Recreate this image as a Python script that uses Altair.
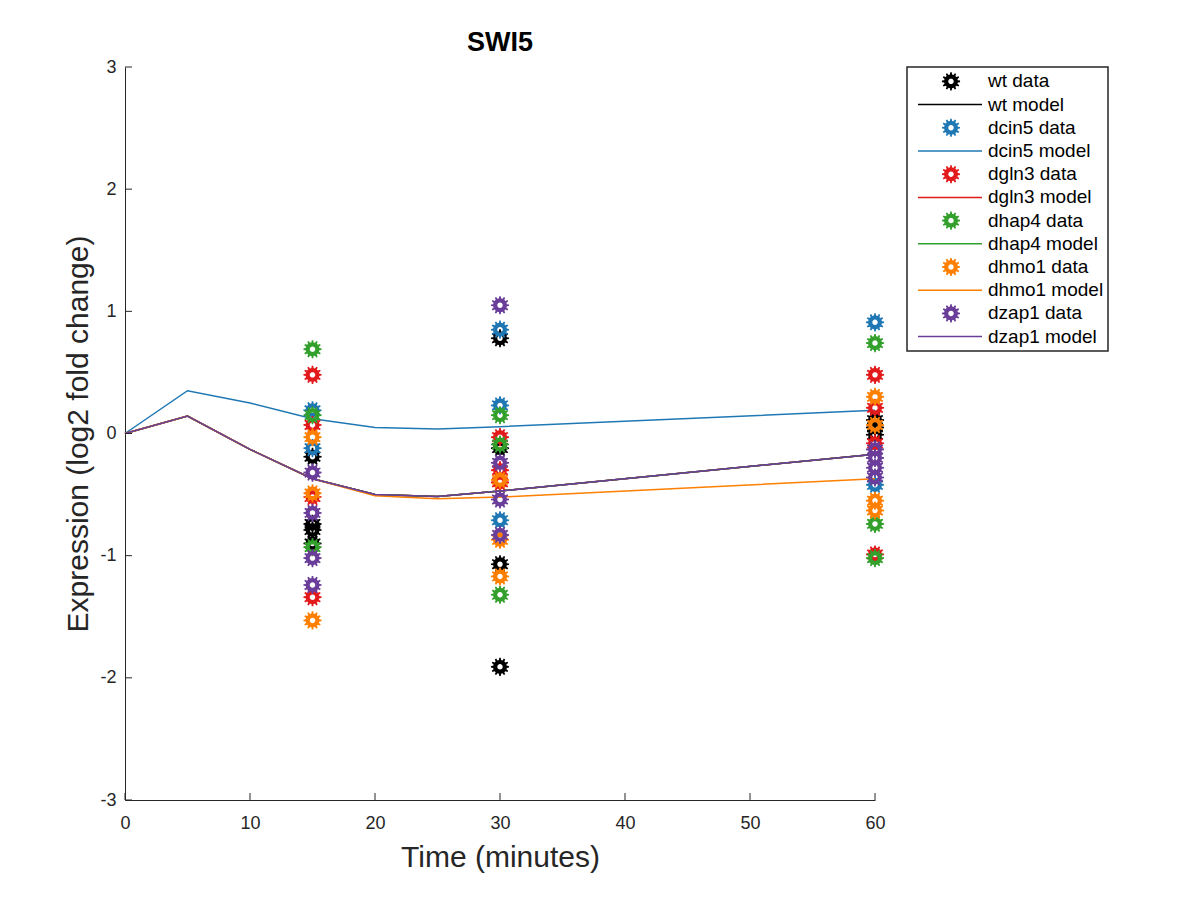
import numpy as np
import pandas as pd
import altair as alt

# ---- data ----
strains = ["wt", "dcin5", "dgln3", "dhap4", "dhmo1", "dzap1"]
colors = ["#000000", "#1f78b4", "#e31a1c", "#33a02c", "#ff7f00", "#6a3d9a"]

# replicate measurements (log2 fold change) per time point (minutes)
wt_data = {15: [-0.19, -0.74, -0.79, -0.90], 30: [0.78, -0.12, -1.07, -1.91], 60: [0.11, 0.05, -0.01]}
dcin5_data = {15: [0.19, -0.12], 30: [0.85, 0.23, -0.71], 60: [0.91, -0.42]}
dgln3_data = {15: [0.48, 0.07, -0.52, -1.34], 30: [-0.03, -0.30, -0.40], 60: [0.48, 0.21, -0.08, -0.99]}
dhap4_data = {15: [0.69, 0.15, -0.93], 30: [0.15, -0.09, -1.32], 60: [0.74, -0.74, -1.02]}
dhmo1_data = {15: [-0.03, -0.49, -1.53], 30: [-0.38, -0.87, -1.17], 60: [0.30, 0.07, -0.55, -0.63]}
dzap1_data = {15: [-0.32, -0.65, -1.02, -1.24], 30: [1.05, -0.24, -0.54, -0.83], 60: [-0.13, -0.20, -0.28, -0.36]}

model_time = [0, 5, 10, 15, 20, 25, 30, 60]
wt_model = [0, 0.143, -0.13, -0.37, -0.50, -0.515, -0.47, -0.17]
dcin5_model = [0, 0.35, 0.25, 0.12, 0.05, 0.037, 0.056, 0.19]
dgln3_model = [0, 0.143, -0.13, -0.37, -0.50, -0.515, -0.47, -0.17]
dhap4_model = [0, 0.143, -0.13, -0.37, -0.50, -0.515, -0.47, -0.17]
dhmo1_model = [0, 0.143, -0.13, -0.37, -0.51, -0.535, -0.52, -0.37]
dzap1_model = [0, 0.143, -0.13, -0.37, -0.50, -0.515, -0.47, -0.17]

x_ticks = [0, 10, 20, 30, 40, 50, 60]
y_ticks = [-3, -2, -1, 0, 1, 2, 3]

all_data = [wt_data, dcin5_data, dgln3_data, dhap4_data, dhmo1_data, dzap1_data]
all_model = [wt_model, dcin5_model, dgln3_model, dhap4_model, dhmo1_model, dzap1_model]

FONT = "Liberation Sans"
AXIS_COLOR = "#262626"


def gear_path(teeth=12, r_out=1.0, r_root=0.76, r_hole=0.3):
    # matlab-ish "gear" marker: toothed ring with a hole
    step = 2 * np.pi / teeth
    pts = []
    for k in range(teeth):
        a = k * step
        for ang, r in [(a - 0.3 * step, r_root), (a - 0.16 * step, r_out),
                       (a + 0.16 * step, r_out), (a + 0.3 * step, r_root)]:
            pts.append((r * np.cos(ang), r * np.sin(ang)))
    outer = "M" + "L".join(f"{x:.3f},{y:.3f}" for x, y in pts) + "Z"
    hole_ang = np.linspace(2 * np.pi, 0, 17)[:-1]
    hole = "M" + "L".join(f"{r_hole * np.cos(t):.3f},{r_hole * np.sin(t):.3f}" for t in hole_ang) + "Z"
    return outer + hole


GEAR = gear_path()
GEAR_SIZE = 330

# plain hyphen minus like the original, not the unicode one
PLAIN = "'' + datum.value"

x_scale = alt.Scale(domain=[0, 60], nice=False, zero=False)
y_scale = alt.Scale(domain=[-3, 3], nice=False, zero=False)
x_axis = alt.Axis(values=x_ticks, title="Time (minutes)", tickSize=0, labelPadding=14,
                  titlePadding=10, grid=False, labelExpr=PLAIN, labelFlush=False)
y_axis = alt.Axis(values=y_ticks, title="Expression (log2 fold change)", tickSize=0,
                  labelPadding=9, titlePadding=6, grid=False, labelExpr=PLAIN, labelFlush=False)


def xy(xf, yf):
    return dict(x=alt.X(xf, scale=x_scale, axis=x_axis), y=alt.Y(yf, scale=y_scale, axis=y_axis))


layers = []
for name, col, data, model in zip(strains, colors, all_data, all_model):
    pts = pd.DataFrame([(t, v) for t, vals in data.items() for v in vals], columns=["time", "value"])
    line = pd.DataFrame({"time": model_time, "value": model})
    layers.append(
        alt.Chart(pts).mark_point(shape=GEAR, filled=True, size=GEAR_SIZE, opacity=1, color=col)
        .encode(**xy("time:Q", "value:Q"))
    )
    layers.append(
        alt.Chart(line).mark_line(color=col, strokeWidth=1.5).encode(**xy("time:Q", "value:Q"))
    )

# inward tick marks (matlab style)
xt = pd.DataFrame({"time": x_ticks})
yt = pd.DataFrame({"value": y_ticks})
layers.append(
    alt.Chart(xt).mark_rule(color=AXIS_COLOR, strokeWidth=1)
    .encode(x=alt.X("time:Q", scale=x_scale, axis=x_axis), y=alt.value(733), y2=alt.value(726))
)
layers.append(
    alt.Chart(yt).mark_rule(color=AXIS_COLOR, strokeWidth=1)
    .encode(y=alt.Y("value:Q", scale=y_scale, axis=y_axis), x=alt.value(0), x2=alt.value(7))
)

main = alt.layer(*layers).properties(
    width=750, height=733,
    title=alt.TitleParams("SWI5", fontSize=27, fontWeight="bold", font=FONT, color="#000000",
                          offset=1, anchor="middle"),
    view=alt.ViewBackground(stroke="transparent"),
)

# ---- legend drawn as its own little panel ----
labels, leg_colors, kinds = [], [], []
for name, col in zip(strains, colors):
    labels += [f"{name} data", f"{name} model"]
    leg_colors += [col, col]
    kinds += ["data", "model"]
leg = pd.DataFrame({"row": list(range(len(labels))), "label": labels, "color": leg_colors, "kind": kinds})

row_y = alt.Y("row:O", scale=alt.Scale(type="point", padding=0.62), axis=None)
leg_base = alt.Chart(leg)
leg_gear = leg_base.transform_filter(alt.datum.kind == "data").mark_point(
    shape=GEAR, filled=True, size=GEAR_SIZE, opacity=1
).encode(x=alt.value(44), y=row_y, color=alt.Color("color:N", scale=None))
leg_line = leg_base.transform_filter(alt.datum.kind == "model").mark_rule(strokeWidth=1.5).encode(
    x=alt.value(11), x2=alt.value(75), y=row_y, color=alt.Color("color:N", scale=None)
)
leg_text = leg_base.mark_text(align="left", baseline="middle", font=FONT, fontSize=19,
                              color="#000000").encode(x=alt.value(81), y=row_y, text="label:N")

legend = alt.layer(leg_gear, leg_line, leg_text).properties(
    width=201, height=284,
    view=alt.ViewBackground(stroke=AXIS_COLOR, strokeWidth=1.5),
)

chart = alt.hconcat(main, legend, spacing=32, bounds="flush").properties(
    padding={"left": 55, "top": 20, "right": 5, "bottom": 5}
).configure(font=FONT).configure_axis(
    domainColor=AXIS_COLOR, domainWidth=1, labelColor=AXIS_COLOR, labelFontSize=18,
    labelFont=FONT, titleColor=AXIS_COLOR, titleFontSize=30, titleFont=FONT,
    titleFontWeight="normal",
)

chart.save("out.html", embed_options={"renderer": "svg", "actions": False})
